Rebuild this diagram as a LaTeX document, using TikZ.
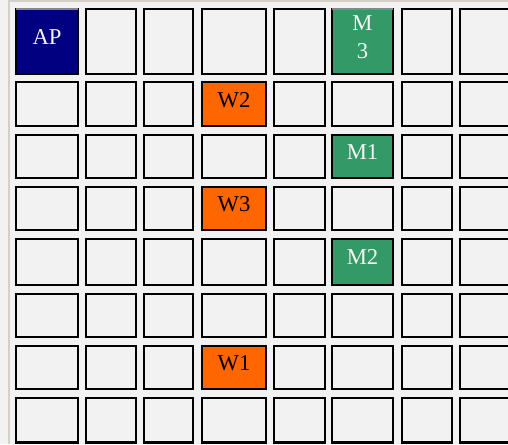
\documentclass[tikz,border=0pt]{standalone}
\usepackage{fontspec}
\setmainfont{Liberation Serif}
\definecolor{bgc}{HTML}{F2F2F2}
\definecolor{framec}{HTML}{D4D0C8}
\definecolor{apc}{HTML}{000080}
\definecolor{mc}{HTML}{339966}
\definecolor{wc}{HTML}{FF6600}
\definecolor{lt}{HTML}{F4F4F4}
\definecolor{topc}{HTML}{888888}
\tikzset{
  cellbox/.style={draw=black, line width=1.7pt, fill=bgc, inner sep=0pt, outer sep=0pt},
  lbl/.style={font=\fontsize{17}{21}\selectfont, inner sep=0pt, anchor=base, align=center},
  topline/.style={draw=topc, line width=1.2pt},
}
\begin{document}
\begin{tikzpicture}[x=0.75pt, y=-0.75pt]
\useasboundingbox (0,0) rectangle (508,444);
\clip (0,0) rectangle (508,444);
\fill[bgc] (0,0) rectangle (508,444);
\fill[framec] (8,0) rectangle (10,444);
\fill[framec] (10,0) rectangle (508,1.5);
\foreach \i in {0,...,7}{
  \foreach \j in {0,...,7}{
    \pgfmathsetmacro\myxl{{15,85,143,201,273,331,401,459}[\i]}
    \pgfmathsetmacro\myxr{{79,137,194,267,326,394,453,511}[\i]}
    \pgfmathsetmacro\myyt{{8,81,134,186,238,293,345,397}[\j]}
    \pgfmathsetmacro\myyb{{75,127,179,231,286,338,390,443.5}[\j]}
    \pgfmathsetmacro\mywd{(\myxr-\myxl-2)*0.75}
    \pgfmathsetmacro\myht{(\myyb-\myyt-2)*0.75}
    \node[cellbox, minimum width=\mywd pt, minimum height=\myht pt] (c\i\j) at ({(\myxl+\myxr)/2},{(\myyt+\myyb)/2}) {};
  }
}
% coloured cells
\path[cellbox, fill=apc] (c00.south west) rectangle (c00.north east);
\path[cellbox, fill=mc] (c50.south west) rectangle (c50.north east);
\path[cellbox, fill=mc] (c52.south west) rectangle (c52.north east);
\path[cellbox, fill=mc] (c54.south west) rectangle (c54.north east);
\path[cellbox, fill=wc] (c31.south west) rectangle (c31.north east);
\path[cellbox, fill=wc] (c33.south west) rectangle (c33.north east);
\path[cellbox, fill=wc] (c36.south west) rectangle (c36.north east);
\draw[topline] (c00.north west) -- (c00.north east);
\draw[topline] (c50.north west) -- (c50.north east);
% labels
\node[lbl, text=lt] (tap) at ([yshift=-2.6pt]c00.center) {AP};
\node[lbl, text=lt] (tm3) at ([yshift=-12.4pt]c50.center) {M\\3};
\node[lbl, text=lt] (tm1) at ([yshift=-1.9pt]c52.center) {M1};
\node[lbl, text=lt] (tm2) at ([yshift=-2.2pt]c54.center) {M2};
\node[lbl, text=black] (tw2) at ([yshift=-2.3pt]c31.center) {W2};
\node[lbl, text=black] (tw3) at ([yshift=-2.3pt]c33.center) {W3};
\node[lbl, text=black] (tw1) at ([yshift=-2.3pt]c36.center) {W1};
\end{tikzpicture}
\end{document}
